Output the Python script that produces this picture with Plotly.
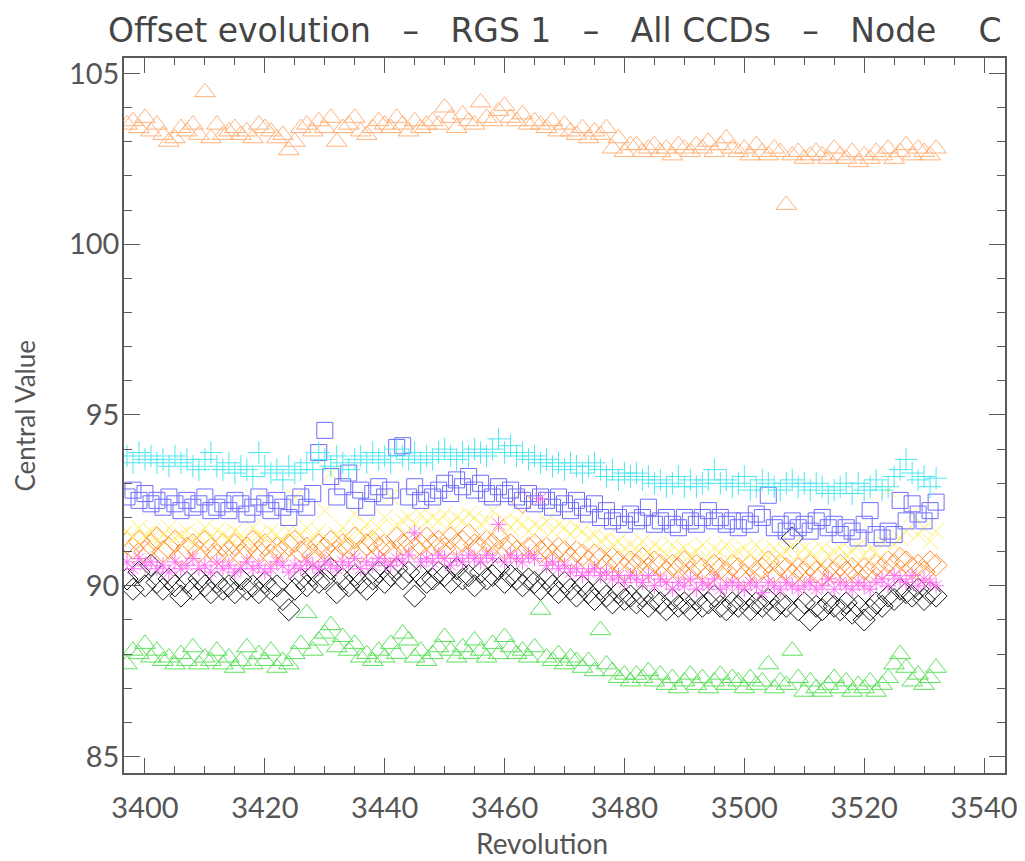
import plotly.graph_objects as go

revolutions = list(range(3397, 3533))

tri_orange = [
    103.5, 103.6, 103.4, 103.7, 103.3, 103.5, 103.2, 103.0, 103.1, 103.4, 103.3, 103.5, 103.2, 104.45, 103.1, 103.5, 103.2,
    103.3, 103.4, 103.2, 103.3, 103.1, 103.5, 103.4, 103.3, 103.1, 103.2, 102.75, 103.0, 103.4, 103.5, 103.3, 103.6, 103.4,
    103.7, 103.0, 103.4, 103.5, 103.7, 103.3, 103.2, 103.4, 103.6, 103.5, 103.4, 103.7, 103.5, 103.3, 103.6, 103.4, 103.5,
    103.6, 103.5, 104.0, 103.7, 103.4, 103.8, 103.6, 103.5, 104.15, 103.7, 103.6, 103.9, 104.05, 103.7, 103.6, 103.8, 103.5,
    103.6, 103.5, 103.4, 103.6, 103.3, 103.5, 103.3, 103.2, 103.4, 103.1, 103.3, 103.2, 103.4, 102.8, 103.1, 102.7, 102.9,
    102.9, 102.7, 102.8, 102.9, 102.7, 102.8, 102.6, 102.9, 102.8, 102.7, 102.9, 102.8, 103.0, 102.7, 102.9, 103.1, 102.8,
    102.7, 102.8, 102.6, 102.9, 102.7, 102.6, 102.8, 102.7, 101.15, 102.6, 102.7, 102.5, 102.6, 102.7, 102.6, 102.5, 102.8,
    102.6, 102.5, 102.7, 102.4, 102.6, 102.5, 102.7, 102.6, 102.8, 102.5, 102.7, 102.9, 102.6, 102.8, 102.7, 102.6, 102.8,
]

plus_cyan = [
    93.8, 93.6, 93.9, 93.7, 93.8, 93.6, 93.7, 93.5, 93.8, 93.6, 93.7, 93.5, 93.4, 93.7, 93.9, 93.5, 93.4,
    93.6, 93.3, 93.5, 93.4, 93.2, 93.9, 93.5, 93.3, 93.4, 93.1, 93.5, 93.3, 93.4, 93.6, 93.4, 93.9, 93.7,
    93.5, 93.8, 93.6, 93.4, 93.7, 93.8, 93.6, 93.9, 93.7, 93.8, 93.6, 94.0, 93.8, 93.7, 93.9, 93.6, 93.8,
    93.7, 93.9, 94.0, 93.8, 93.7, 93.9, 93.8, 94.0, 93.9, 93.8, 94.0, 94.3, 93.9, 94.1, 93.8, 93.9, 93.7,
    93.8, 93.6, 93.7, 93.5, 93.6, 93.4, 93.6, 93.5, 93.3, 93.5, 93.6, 93.4, 93.2, 93.4, 93.1, 93.3, 93.2,
    93.3, 93.1, 93.2, 93.0, 93.1, 92.9, 93.0, 93.2, 92.9, 93.1, 92.9, 93.0, 93.1, 93.4, 93.0, 93.1, 92.9,
    93.0, 93.2, 92.8, 92.9, 93.1, 93.0, 92.9, 92.8, 93.0, 93.1, 92.9, 93.0, 92.8, 93.0, 92.9, 92.7, 92.8,
    92.9, 93.0, 92.7, 93.0, 92.8, 92.9, 93.1, 92.8, 92.9, 93.2, 93.4, 93.7, 93.3, 93.1, 93.2, 92.9, 93.15,
]

square_blue = [
    92.6, 92.8, 92.5, 92.7, 92.4, 92.5, 92.3, 92.6, 92.4, 92.2, 92.5, 92.3, 92.4, 92.6, 92.2, 92.3, 92.4,
    92.2, 92.5, 92.4, 92.1, 92.3, 92.6, 92.4, 92.2, 92.5, 92.3, 92.0, 92.4, 92.6, 92.3, 92.7, 93.9, 94.55,
    93.2, 92.6, 92.9, 93.3, 92.5, 92.8, 92.3, 92.7, 92.9, 92.6, 92.8, 94.05, 94.1, 92.6, 92.9, 92.5, 92.7,
    92.6, 92.8, 93.0, 92.7, 93.1, 92.9, 93.2, 92.8, 93.0, 92.7, 92.6, 92.9, 92.7, 92.8, 92.6, 92.5, 92.7,
    92.4, 92.6, 92.5, 92.3, 92.6, 92.4, 92.2, 92.5, 92.3, 92.1, 92.4, 92.0, 92.2, 91.9, 92.0, 91.8, 92.1,
    91.9, 92.0, 92.3, 91.8, 91.9, 92.0, 91.8, 91.7, 92.0, 91.9, 91.8, 92.0, 92.2, 91.9, 92.0, 91.8, 91.9,
    91.7, 91.9, 91.8, 92.1, 92.0, 92.65, 91.7, 91.8, 91.6, 91.9, 91.7, 91.8, 91.6, 91.9, 92.0, 91.7, 91.8,
    91.5, 91.7, 91.6, 91.4, 91.8, 92.2, 91.5, 91.4, 91.6, 91.5, 92.5, 91.9, 92.4, 92.1, 91.9, 92.2, 92.45,
]

x_yellow = [
    91.6, 91.4, 91.7, 91.5, 91.6, 91.3, 91.5, 91.7, 91.4, 91.5, 91.6, 91.3, 91.5, 91.7, 91.4, 91.6, 91.5,
    91.4, 91.6, 91.5, 91.3, 91.7, 91.5, 91.4, 91.6, 91.5, 91.3, 91.6, 92.6, 91.5, 91.7, 91.4, 91.6, 92.2,
    93.3, 91.5, 91.7, 91.4, 92.1, 91.6, 91.8, 91.5, 91.7, 92.0, 92.6, 91.8, 91.9, 92.0, 91.8, 92.1, 91.9,
    92.0, 91.9, 92.1, 91.8, 92.0, 91.9, 92.1, 92.0, 91.8, 91.9, 92.2, 91.8, 91.9, 91.7, 91.9, 91.8, 91.6,
    91.8, 91.7, 91.9, 91.6, 91.8, 91.7, 91.5, 91.7, 91.6, 91.4, 91.5, 91.3, 91.4, 91.2, 91.3, 91.1, 91.2,
    91.1, 91.3, 91.0, 91.2, 91.1, 90.9, 91.2, 91.0, 91.1, 90.9, 91.0, 91.2, 90.8, 91.1, 91.0, 91.2, 90.9,
    91.0, 91.1, 90.9, 91.2, 91.0, 90.8, 91.1, 90.9, 91.0, 91.2, 90.9, 91.1, 91.0, 90.8, 91.1, 90.9, 91.0,
    91.1, 90.9, 91.0, 91.2, 90.9, 91.1, 91.0, 91.3, 92.8, 91.2, 91.4, 91.6, 92.1, 91.5, 91.7, 91.3, 91.6,
]

diamond_orange = [
    91.25, 91.1, 91.3, 91.0, 91.2, 91.4, 91.0, 91.1, 91.3, 90.9, 91.1, 91.2, 91.0, 91.3, 91.1, 90.9, 91.2,
    91.0, 91.2, 90.9, 91.1, 91.3, 91.0, 91.2, 90.9, 91.1, 91.0, 91.2, 91.3, 91.0, 91.1, 90.9, 91.2, 91.1,
    91.3, 91.0, 91.2, 91.1, 91.4, 91.0, 91.2, 91.3, 91.1, 91.2, 91.0, 91.4, 91.2, 91.3, 91.1, 91.2, 91.4,
    91.2, 91.3, 91.1, 91.4, 91.2, 91.3, 91.5, 91.2, 91.1, 91.3, 91.2, 91.4, 91.1, 91.2, 91.0, 92.45, 91.1,
    91.2, 91.0, 91.1, 90.9, 91.1, 91.0, 90.8, 91.0, 90.9, 90.7, 90.9, 90.8, 90.6, 90.8, 90.7, 90.5, 90.7,
    90.6, 90.8, 90.5, 90.7, 90.6, 90.4, 90.6, 90.5, 90.7, 90.4, 90.6, 90.5, 90.3, 90.6, 90.5, 90.4, 90.6,
    90.5, 90.3, 90.6, 90.4, 90.5, 90.7, 90.4, 90.6, 90.5, 90.3, 90.5, 90.4, 90.6, 90.4, 90.3, 90.5, 90.4,
    90.6, 90.4, 90.5, 90.3, 90.5, 90.4, 90.6, 90.5, 90.7, 90.6, 90.8, 90.7, 90.5, 90.6, 90.4, 90.7, 90.6,
]

star_magenta = [
    90.7, 90.5, 90.8, 90.6, 90.7, 90.5, 90.6, 90.4, 90.7, 90.5, 90.6, 90.8, 90.5, 90.6, 90.4, 90.7, 90.5,
    90.6, 90.4, 90.5, 90.7, 90.5, 90.6, 90.4, 90.5, 90.7, 90.6, 90.4, 90.6, 90.5, 90.7, 90.6, 90.5, 90.7,
    90.6, 90.5, 90.7, 90.6, 90.8, 90.5, 90.7, 90.6, 90.8, 90.7, 90.6, 90.8, 90.7, 90.9, 91.55, 90.7, 90.8,
    90.7, 90.9, 90.8, 90.6, 90.8, 90.7, 90.9, 90.8, 90.7, 90.9, 90.8, 91.8, 90.7, 90.9, 90.8, 90.7, 90.9,
    90.8, 92.55, 90.6, 90.7, 90.5, 90.6, 90.4, 90.5, 90.3, 90.4, 90.5, 90.3, 90.4, 90.2, 90.3, 90.1, 90.3,
    90.2, 90.1, 90.3, 90.0, 90.2, 90.1, 89.9, 90.1, 90.0, 90.2, 89.9, 90.1, 90.0, 90.2, 89.9, 90.0, 90.1,
    90.0, 89.9, 90.1, 90.0, 89.8, 90.1, 90.0, 89.9, 90.1, 90.0, 89.9, 90.0, 90.1, 89.9, 90.0, 90.2, 89.9,
    90.1, 90.0, 89.9, 90.1, 90.0, 89.9, 90.1, 90.2, 90.0, 90.3, 90.2, 90.1, 90.3, 90.0, 90.2, 90.1, 90.0,
]

diamond_black = [
    90.2, 89.9, 90.4, 90.0, 90.6, 90.1, 89.9, 90.2, 90.0, 89.7, 90.1, 89.9, 90.2, 90.0, 89.8, 90.1, 89.9,
    90.0, 89.8, 90.2, 89.9, 90.0, 89.8, 90.1, 89.9, 90.0, 89.6, 89.3, 89.9, 90.2, 90.0, 90.3, 90.1, 90.2,
    90.5, 89.8, 90.2, 90.0, 90.3, 90.1, 89.9, 90.2, 90.4, 90.1, 90.3, 90.5, 90.2, 90.4, 89.7, 90.3, 90.1,
    90.2, 90.4, 90.3, 90.1, 90.5, 90.2, 90.3, 90.0, 90.4, 90.2, 90.3, 90.5, 90.1, 90.3, 90.2, 90.0, 90.2,
    90.1, 89.9, 90.2, 90.0, 89.8, 90.1, 89.9, 89.7, 90.0, 89.8, 89.6, 89.9, 89.7, 89.5, 89.8, 89.6, 89.7,
    89.5, 89.7, 89.4, 89.6, 89.5, 89.3, 89.6, 89.4, 89.5, 89.3, 89.6, 89.4, 89.5, 89.7, 89.4, 89.3, 89.5,
    89.4, 89.6, 89.3, 89.5, 89.4, 89.6, 89.3, 89.5, 89.4, 91.4, 89.3, 89.5, 89.0, 89.4, 89.3, 89.5, 89.4,
    89.3, 89.5, 89.2, 89.4, 89.0, 89.3, 89.5, 89.4, 89.7, 89.6, 89.9, 89.8, 89.7, 89.9, 89.6, 89.8, 89.7,
]

tri_green = [
    87.7, 88.1, 88.0, 88.3, 87.9, 88.1, 87.8, 87.9, 87.7, 88.0, 87.8, 88.2, 87.7, 87.9, 87.8, 88.1, 87.7,
    87.9, 87.6, 87.8, 88.2, 87.7, 88.0, 87.8, 88.1, 87.6, 87.8, 87.7, 88.0, 88.3, 89.2, 88.1, 88.4, 88.6,
    88.85, 88.2, 88.5, 88.1, 88.3, 87.9, 88.0, 87.8, 88.1, 87.9, 88.3, 88.0, 88.6, 88.4, 87.9, 88.1, 87.8,
    88.0, 88.2, 88.5, 88.1, 87.9, 88.2, 88.0, 88.4, 88.1, 87.9, 88.3, 88.0, 88.5, 88.2, 88.0, 88.1, 87.9,
    88.2, 89.3, 87.9, 87.8, 88.0, 87.7, 87.9, 87.8, 87.6, 87.8, 87.5, 88.7, 87.7, 87.5, 87.3, 87.4, 87.2,
    87.4, 87.3, 87.5, 87.2, 87.4, 87.1, 87.3, 87.0, 87.2, 87.4, 87.1, 87.3, 87.0, 87.2, 87.4, 87.1, 87.3,
    87.2, 87.0, 87.3, 87.1, 87.2, 87.7, 87.0, 87.2, 87.1, 88.1, 87.3, 86.9, 87.2, 87.0, 86.9, 87.1, 87.3,
    87.0, 87.2, 86.9, 87.1, 87.0, 87.2, 86.9, 87.1, 87.3, 87.7, 88.0, 87.6, 87.2, 87.4, 87.1, 87.3, 87.6,
]

series = [
    (tri_orange, "triangle-up-open", "#FFB27A", 18),
    (tri_green, "triangle-up-open", "#5EE05E", 18),
    (diamond_black, "diamond-open", "#1A1A1A", 17),
    (diamond_orange, "diamond-open", "#FF8C28", 17),
    (x_yellow, "x-thin-open", "#FFEE66", 16),
    (square_blue, "square-open", "#6E6EFF", 16),
    (plus_cyan, "cross-thin-open", "#4CE6F2", 16),
    (star_magenta, "asterisk-open", "#FF6EF5", 13),
]

fig = go.Figure()
for vals, sym, col, sz in series:
    fig.add_trace(go.Scatter(
        x=revolutions, y=vals, mode="markers",
        marker=dict(symbol=sym, size=sz, color=col, line=dict(color=col, width=1)),
        showlegend=False, hoverinfo="skip",
    ))

font_family = "Lato, DejaVu Sans, sans-serif"
axis_common = dict(
    showline=True, linecolor="#5a5a5a", linewidth=1.5, mirror="ticks",
    ticks="inside", tickcolor="#5a5a5a", tickwidth=1.2,
    showgrid=False, zeroline=False, automargin=False,
    tickfont=dict(family=font_family, size=29, color="#555555"),
)

# page body has an 8px margin, so the figure is drawn 8px smaller and shifted
fig.update_layout(
    width=1017, height=853,
    margin=dict(l=116, r=20, t=50, b=88),
    paper_bgcolor="white", plot_bgcolor="white",
    xaxis=dict(range=[3396.5, 3543.5], tickmode="linear", tick0=3400, dtick=20, ticklen=15,
               minor=dict(dtick=5, ticklen=7, ticks="inside", tickcolor="#5a5a5a"),
               ticklabelstandoff=8, **axis_common),
    yaxis=dict(range=[84.52, 105.45], tickmode="linear", tick0=85, dtick=5, ticklen=16,
               minor=dict(dtick=1, ticklen=8, ticks="inside", tickcolor="#5a5a5a"),
               ticklabelstandoff=-3, **axis_common),
    annotations=[
        dict(text="Offset evolution   \u2013   RGS 1   \u2013   All CCDs   \u2013   Node    C", xref="paper", yref="paper",
             x=0.489, y=1.039, xanchor="center", yanchor="middle", showarrow=False,
             font=dict(family="DejaVu Sans, sans-serif", size=33, color="#444444")),
        dict(text="Revolution", xref="paper", yref="paper", x=0.475, y=-0.098,
             xanchor="center", yanchor="middle", showarrow=False,
             font=dict(family=font_family, size=28, color="#555555")),
        dict(text="Central Value", xref="paper", yref="paper", x=-0.1135, y=0.5,
             xanchor="center", yanchor="middle", showarrow=False, textangle=-90,
             font=dict(family=font_family, size=26, color="#555555")),
    ],
)

fig.write_html("out.html")
